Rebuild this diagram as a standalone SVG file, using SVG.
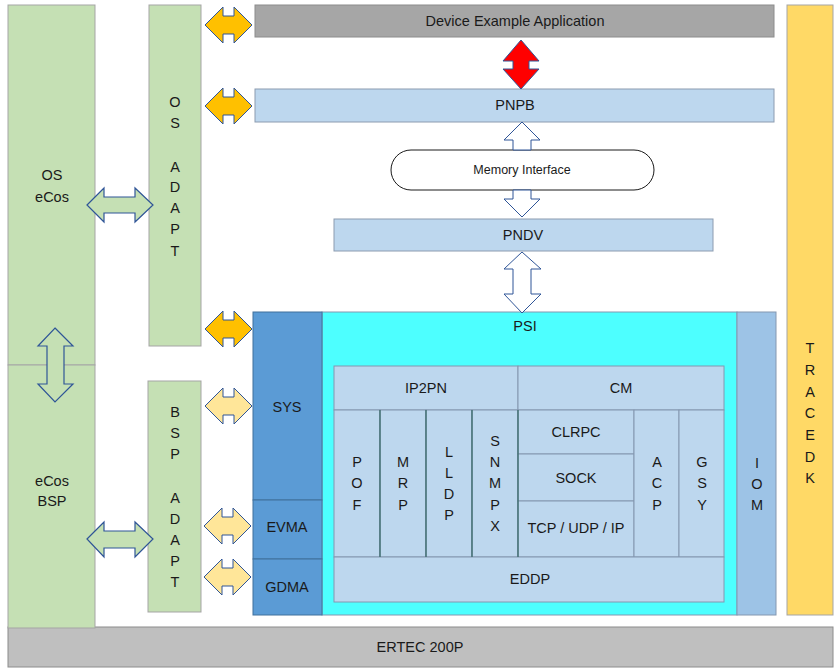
<svg xmlns="http://www.w3.org/2000/svg" width="840" height="672" viewBox="0 0 840 672">
<style>
text{font-family:"Liberation Sans",Arial,sans-serif;font-size:14.5px;fill:#1a1a1a;text-anchor:middle;dominant-baseline:central}
.g{fill:#c5e0b4;stroke:#a5a5a5;stroke-width:1}
.lb{fill:#bdd7ee;stroke:#8c9bb0;stroke-width:1}
.gr{fill:#a6a6a6;stroke:#8c8c8c;stroke-width:1}
.sys{fill:#5b9bd5;stroke:#41719c;stroke-width:1}
.cell{fill:#bdd7ee;stroke:#8497b0;stroke-width:1}
.dv{stroke:#3a6a6a;stroke-width:1.3}
.ao{fill:#ffc000;stroke:#2f5597;stroke-width:1}
.al{fill:#ffe699;stroke:#2f5597;stroke-width:1}
.ag{fill:#c5e0b4;stroke:#2f5597;stroke-width:1.2}
.aw{fill:#ffffff;stroke:#2f5597;stroke-width:1}
.ar{fill:#ff0000;stroke:#2f5597;stroke-width:1}
.sm{font-size:12.5px}
</style>
<defs>
<path id="hOrange" d="M0,0 L18,-18 L18,-9 L29,-9 L29,-18 L47,0 L29,18 L29,9 L18,9 L18,18 Z"/>
</defs>

<g id="ertec"><rect x="8" y="627" width="825" height="40" fill="#bfbfbf" stroke="#8c8c8c"/><text x="420" y="647">ERTEC 200P</text></g>
<g id="os-ecos"><rect class="g" x="8" y="5" width="87" height="360"/><text x="52" y="175">OS</text><text x="52" y="197">eCos</text></g>
<g id="ecos-bsp"><rect class="g" x="8" y="365" width="87" height="263"/><text x="52" y="481">eCos</text><text x="52" y="501">BSP</text></g>
<g id="os-adapt"><rect class="g" x="149" y="5" width="52" height="341"/>
<text x="175" y="102">O</text><text x="175" y="123">S</text><text x="175" y="167">A</text><text x="175" y="187">D</text><text x="175" y="208">A</text><text x="175" y="229">P</text><text x="175" y="251">T</text></g>
<g id="bsp-adapt"><rect class="g" x="148" y="381" width="53" height="231"/>
<text x="175" y="412">B</text><text x="175" y="433">S</text><text x="175" y="454">P</text><text x="175" y="498">A</text><text x="175" y="519">D</text><text x="175" y="540">A</text><text x="175" y="561">P</text><text x="175" y="582">T</text></g>
<g id="device-app"><rect class="gr" x="255" y="5" width="519" height="32"/><text x="515" y="21">Device Example Application</text></g>
<g id="pnpb"><rect class="lb" x="255" y="89" width="519" height="33"/><text x="515" y="105">PNPB</text></g>
<g id="memory-interface"><rect x="391" y="150" width="263" height="40" rx="20" ry="20" fill="#ffffff" stroke="#1a1a1a"/><text class="sm" x="522" y="170">Memory Interface</text></g>
<g id="pndv"><rect class="lb" x="334" y="219" width="379" height="32"/><text x="523" y="235">PNDV</text></g>
<g id="tracedk"><rect x="787" y="5" width="46" height="610" fill="#ffd966" stroke="#a5a5a5"/>
<text x="810" y="348">T</text><text x="810" y="370">R</text><text x="810" y="392">A</text><text x="810" y="413">C</text><text x="810" y="435">E</text><text x="810" y="457">D</text><text x="810" y="478">K</text></g>
<g id="psi"><rect x="322" y="312" width="415" height="303" fill="#4dffff" stroke="#8497b0"/><text x="525" y="326">PSI</text></g>
<g id="iom"><rect x="737" y="312" width="39" height="303" fill="#9dc3e6" stroke="#8497b0"/><text x="757" y="463">I</text><text x="757" y="484">O</text><text x="757" y="505">M</text></g>
<g id="sys"><rect class="sys" x="253" y="312" width="69" height="188"/><text x="287" y="407">SYS</text></g>
<g id="evma"><rect class="sys" x="253" y="500" width="69" height="59"/><text x="287" y="527">EVMA</text></g>
<g id="gdma"><rect class="sys" x="253" y="559" width="69" height="56"/><text x="287" y="587">GDMA</text></g>

<g id="psi-inner">
<g id="ip2pn"><rect class="cell" x="334" y="366" width="184" height="44"/><text x="426" y="388">IP2PN</text></g>
<g id="cm"><rect class="cell" x="518" y="366" width="206" height="44"/><text x="621" y="388">CM</text></g>
<g id="pof"><rect class="cell" x="334" y="410" width="46" height="147"/><text x="357" y="462">P</text><text x="357" y="483">O</text><text x="357" y="505">F</text></g>
<g id="mrp"><rect class="cell" x="380" y="410" width="46" height="147"/><text x="403" y="462">M</text><text x="403" y="483">R</text><text x="403" y="505">P</text></g>
<g id="lldp"><rect class="cell" x="426" y="410" width="46" height="147"/><text x="449" y="452">L</text><text x="449" y="473">L</text><text x="449" y="494">D</text><text x="449" y="515">P</text></g>
<g id="snmpx"><rect class="cell" x="472" y="410" width="46" height="147"/><text x="495" y="441">S</text><text x="495" y="462">N</text><text x="495" y="483">M</text><text x="495" y="505">P</text><text x="495" y="526">X</text></g>
<g id="clrpc"><rect class="cell" x="518" y="410" width="116" height="44"/><text x="576" y="432">CLRPC</text></g>
<g id="sock"><rect class="cell" x="518" y="454" width="116" height="47"/><text x="576" y="478">SOCK</text></g>
<g id="tcp"><rect class="cell" x="518" y="501" width="116" height="56"/><text x="576" y="528">TCP / UDP / IP</text></g>
<g id="acp"><rect class="cell" x="634" y="410" width="45" height="147"/><text x="657" y="462">A</text><text x="657" y="483">C</text><text x="657" y="505">P</text></g>
<g id="gsy"><rect class="cell" x="679" y="410" width="45" height="147"/><text x="702" y="462">G</text><text x="702" y="483">S</text><text x="702" y="505">Y</text></g>
<g id="eddp"><rect class="cell" x="334" y="557" width="390" height="45"/><text x="530" y="579">EDDP</text></g>
<line class="dv" x1="380" y1="410" x2="380" y2="557"/><line class="dv" x1="426" y1="410" x2="426" y2="557"/><line class="dv" x1="472" y1="410" x2="472" y2="557"/><line class="dv" x1="518" y1="410" x2="518" y2="557"/>
</g>

<g id="connectors">
<use href="#hOrange" class="ao" x="205" y="25"/>
<use href="#hOrange" class="ao" x="205" y="106"/>
<use href="#hOrange" class="ao" x="205" y="329"/>
<use href="#hOrange" class="al" x="205" y="406"/>
<use href="#hOrange" class="al" x="204" y="526"/>
<use href="#hOrange" class="al" x="204" y="577"/>
<path class="ag" d="M87,205 L104,188 L104,197 L135,197 L135,188 L153,205 L135,222 L135,213 L104,213 L104,222 Z"/>
<path class="ag" d="M87,539 L104,522 L104,531 L135,531 L135,522 L153,539 L135,557 L135,548 L104,548 L104,557 Z"/>
<path class="ag" d="M55,328 L73,346 L64,346 L64,384 L73,384 L55,402 L38,384 L47,384 L47,346 L38,346 Z"/>
<path class="ar" d="M521,40 L539,61 L529,61 L529,69 L539,69 L521,89 L503,69 L513,69 L513,61 L503,61 Z"/>
<path class="aw" d="M522,122 L540,140 L531,140 L531,150 L513,150 L513,140 L504,140 Z"/>
<path class="aw" d="M513,190 L531,190 L531,199 L540,199 L522,217 L504,199 L513,199 Z"/>
<path class="aw" d="M522,252 L541,269 L531,269 L531,294 L541,294 L522,313 L504,294 L513,294 L513,269 L504,269 Z"/>
</g>
</svg>
